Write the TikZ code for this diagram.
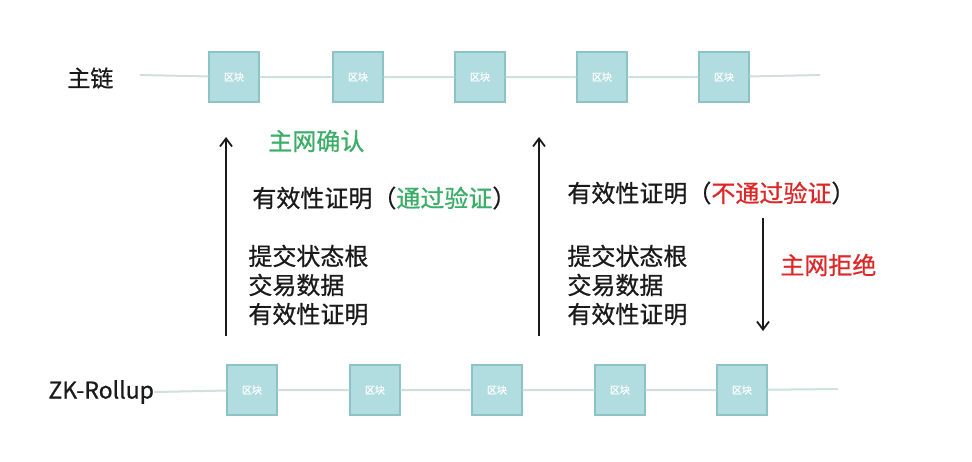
\documentclass[tikz,border=0pt]{standalone}
\usepackage{fontspec}
\setmainfont{Noto Sans CJK SC}[UprightFeatures={FakeBold=0.7}]
\usepackage{xcolor}
\usetikzlibrary{positioning,arrows.meta}
\definecolor{blockfill}{HTML}{B2DDE0}
\definecolor{blockedge}{HTML}{8CC4C6}
\definecolor{chainline}{HTML}{CFE0DD}
\definecolor{okgreen}{HTML}{3AAE66}
\definecolor{rejectred}{HTML}{DE2626}
\definecolor{textblack}{HTML}{1A1A1A}
\newcommand{\chainblock}[3]{%
	\node[blockbox] (#1) at (#2,#3) {区块};
}

\begin{document}
\begin{tikzpicture}[x=0.5pt,y=-0.5pt,
	blockbox/.style={draw=blockedge, fill=blockfill, line width=0.7pt, minimum size=25pt,
		inner sep=0pt, font=\fontsize{5}{5}\selectfont, text=white},
	chainlabel/.style={font=\fontsize{11.5}{14}\selectfont, text=textblack, inner sep=0pt},
	bodytext/.style={font=\fontsize{12}{14.5}\selectfont, text=textblack, align=left, inner sep=0pt},
	flow/.style={-{Straight Barb[length=4pt,width=6pt]}, line width=0.9pt, textblack}]
	% Fixed white canvas with the reference proportions.
	\path[use as bounding box] (0,0) rectangle (972,461);
	\fill[white] (0,0) rectangle (972,461);

	% Main chain.
	\node[chainlabel, anchor=west] (mainlabel) at (67,78) {主链};
	\coordinate (mstart) at (140,75);
	\coordinate (mend) at (820,75);
	\foreach \i/\x in {1/234,2/358,3/480,4/602,5/724} {\chainblock{m\i}{\x}{77}}
	\draw[chainline, line width=1pt] (mstart) -- (m1) -- (m2) -- (m3) -- (m4) -- (m5) -- (mend);

	% ZK-Rollup chain.
	\node[chainlabel, anchor=west] (zklabel) at (48,392) {ZK-Rollup};
	\coordinate (zend) at (838,389);
	\foreach \i/\x in {1/252,2/375,3/497,4/620,5/742} {\chainblock{z\i}{\x}{390}}
	\draw[chainline, line width=1pt] (zklabel.east) -- (z1) -- (z2) -- (z3) -- (z4) -- (z5) -- (zend);

	% Upward submissions and downward rejection.
	\coordinate (upAbot) at (226,336);
	\coordinate (upAtop) at (226,137);
	\coordinate (upBbot) at (539,336);
	\coordinate (upBtop) at (539,137);
	\coordinate (downtop) at (763,218);
	\coordinate (downbot) at (763,331);
	\draw[flow] (upAbot) -- (upAtop);
	\draw[flow] (upBbot) -- (upBtop);
	\draw[flow] (downtop) -- (downbot);

	% Left column: accepted proof.
	\node[bodytext, anchor=west, text=okgreen] (confirm) at (268,141) {主网确认};
	\node[bodytext, anchor=west] (proofok) at (252,198)
		{有效性证明（\textcolor{okgreen}{通过验证}）};
	\node[bodytext, anchor=west] (submitA) at (248,285)
		{提交状态根\\交易数据\\有效性证明};

	% Right column: rejected proof.
	\node[bodytext, anchor=west] (proofbad) at (567,193)
		{有效性证明（\textcolor{rejectred}{不通过验证}）};
	\node[bodytext, anchor=west] (submitB) at (567,285)
		{提交状态根\\交易数据\\有效性证明};
	\node[bodytext, anchor=west, text=rejectred] (reject) at (780,265) {主网拒绝};
\end{tikzpicture}
\end{document}
